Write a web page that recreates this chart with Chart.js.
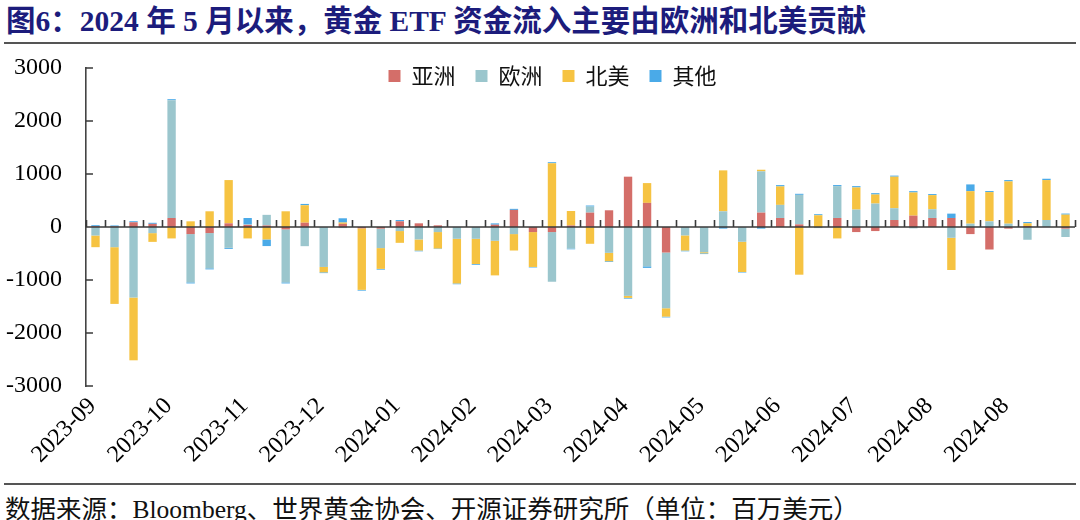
<!DOCTYPE html>
<html lang="zh-CN">
<head>
<meta charset="utf-8">
<title>黄金 ETF 资金流</title>
<script src="https://cdn.jsdelivr.net/npm/chart.js@4.4.1/dist/chart.umd.min.js"></script>
<style>
  html, body { margin: 0; padding: 0; background: #fff; }
  #page { position: relative; width: 1080px; height: 520px; overflow: hidden;
          font-family: "Liberation Serif", "Noto Sans CJK SC", serif; }
  #title { position: absolute; left: 6px; top: -3px; font-size: 29.5px; font-weight: bold;
           color: #1c1c7c; white-space: nowrap; }
  .rule { position: absolute; left: 4px; right: 4px; height: 2px; background: #555; }
  #box { position: absolute; left: 0; top: 46px; width: 1080px; height: 436px; }
  #source { position: absolute; left: 5px; top: 488px; font-size: 25.5px; color: #111; white-space: nowrap; }
</style>
</head>
<body>
<div id="page">
  <div id="title">图6：2024 年 5 月以来，黄金 ETF 资金流入主要由欧洲和北美贡献</div>
  <div class="rule" style="top:42px"></div>
  <div id="box"><canvas id="grafica"></canvas></div>
  <div class="rule" style="top:483px"></div>
  <div id="source">数据来源：Bloomberg、世界黄金协会、开源证券研究所（单位：百万美元）</div>
</div>
<script>
// semanas (etiqueta = año-mes de cada semana)
const weeks = [
  '2023-09',
  '2023-10', '2023-10', '2023-10', '2023-10',
  '2023-11', '2023-11', '2023-11', '2023-11',
  '2023-12', '2023-12', '2023-12', '2023-12', '2023-12',
  '2024-01', '2024-01', '2024-01', '2024-01',
  '2024-02', '2024-02', '2024-02', '2024-02',
  '2024-03', '2024-03', '2024-03', '2024-03', '2024-03',
  '2024-04', '2024-04', '2024-04', '2024-04',
  '2024-05', '2024-05', '2024-05', '2024-05', '2024-05',
  '2024-06', '2024-06', '2024-06', '2024-06',
  '2024-07', '2024-07', '2024-07', '2024-07',
  '2024-08', '2024-08', '2024-08', '2024-08', '2024-08',
  '2024-09', '2024-09', '2024-09'
];
const labelEvery = 4;

// flujos por región (millones USD)
const asia = [15, 10, 90, 60, 170, -133, -114, 70, 40, 30,
  -44, 82, 0, 60, -25, -30, 108, 70, 32, 0,
  0, 44, 323, -95, -95, 30, 272, 316, 950, 456,
  -481, 0, 0, 0, 0, 272, 171, 50, 0, 171,
  -95, -76, 133, 215, 171, 171, -133, -424, -30, 20,
  0, -30];
const europe = [-160, -380, -1330, -115, 2222, -911, -665, -392, 10, 200,
  -1000, -361, -753, -20, 0, -367, -76, -234, -95, -222,
  -222, -260, -133, 0, -937, -405, 114, -487, -1298, -741,
  -1051, -158, -475, 297, -278, 779, 247, 557, -20, 601,
  329, 443, 222, -25, 165, -203, 63, 108, 63, -240,
  133, -158];
const northAmerica = [-220, -1070, -1184, -165, -215, 108, 297, 816, -215, -234,
  297, 329, -101, 25, -1160, -392, -222, -209, -310, -842,
  -475, -652, -310, -658, 1203, 272, -316, -158, -38, 373,
  -158, -285, -20, 772, -570, 30, 348, -899, 222, -215,
  418, 171, 595, 437, 266, -608, 614, 551, 798, 50,
  753, 234];
const other = [20, 20, 20, 20, 20, -20, -20, -20, 120, -125,
  -20, 25, -15, 80, -15, -15, 25, -15, -10, -15,
  -15, 25, 20, -10, 20, -15, 20, -15, -15, -30,
  -15, -15, -15, -30, -10, -30, 25, 20, 20, 20,
  25, 25, 20, 25, 20, 82, 127, 20, 25, 25,
  25, 20];

const yTicks = [-3000, -2000, -1000, 0, 1000, 2000, 3000];

const serif = '"Liberation Serif", "Noto Sans CJK SC", serif';
const yLabelGap = 24;

// leyenda sobre el área del gráfico, línea del cero y marcas de los ejes
const axisMarks = {
  id: 'axisMarks',
  beforeInit(chart) {
    // la leyenda no ocupa sitio en el layout
    const lg = chart.legend;
    const fit = lg.fit.bind(lg);
    lg.fit = function () { fit(); this.height = 0; };
  },
  afterLayout(chart) {
    const lg = chart.legend;
    lg.top = chart.chartArea.top - 23;
    lg.height = 60;
    lg.bottom = lg.top + lg.height;
    lg.left += 12; lg.right += 12;
  },
  afterDatasetsDraw(chart) {
    const { ctx, chartArea, scales: { x, y } } = chart;
    const y0 = y.getPixelForValue(0);
    const half = (x.getPixelForValue(1) - x.getPixelForValue(0)) / 2;
    ctx.save();
    ctx.strokeStyle = '#3a3a3a';
    ctx.lineWidth = 1.6;
    ctx.beginPath();
    ctx.moveTo(chartArea.left, y0);
    ctx.lineTo(chartArea.right, y0);
    for (let i = 0; i <= weeks.length; i++) {
      const px = Math.round(x.getPixelForValue(i) - half) + 0.5;
      ctx.moveTo(px, y0);
      ctx.lineTo(px, y0 - 7);
    }
    yTicks.forEach(v => {
      const py = y.getPixelForValue(v);
      ctx.moveTo(chartArea.left, py);
      ctx.lineTo(chartArea.left + 7, py);
    });
    ctx.stroke();
    ctx.restore();
  }
};

new Chart(document.querySelector('#grafica'), {
  type: 'bar',
  data: {
    labels: weeks,
    datasets: [
      { label: '亚洲', data: asia, backgroundColor: '#d46e69' },
      { label: '欧洲', data: europe, backgroundColor: '#9bc6cd' },
      { label: '北美', data: northAmerica, backgroundColor: '#f6c342' },
      { label: '其他', data: other, backgroundColor: '#4aaae8' }
    ]
  },
  options: {
    responsive: true,
    maintainAspectRatio: false,
    animation: false,
    layout: { padding: { left: 6, right: 5, top: 22, bottom: 7 } },
    datasets: { bar: { barPercentage: 0.44, categoryPercentage: 1 } },
    plugins: {
      legend: {
        position: 'top',
        labels: {
          boxWidth: 12, boxHeight: 12, padding: 20, color: '#111',
          font: { family: '"Noto Sans CJK SC", sans-serif', size: 22 }
        }
      },
      tooltip: { enabled: false }
    },
    scales: {
      x: {
        stacked: true,
        grid: { display: false, drawTicks: false },
        border: { display: false },
        afterFit: s => { s.paddingLeft = 0; s.paddingRight = 0; },
        ticks: {
          autoSkip: false, maxRotation: 45, minRotation: 45, padding: 6, labelOffset: -3,
          color: '#000', font: { family: serif, size: 24 },
          callback: (v, i) => (i % labelEvery === 0 ? weeks[i] : '')
        }
      },
      y: {
        stacked: true,
        min: -3000,
        max: 3000,
        afterBuildTicks: s => { s.ticks = yTicks.map(v => ({ value: v })); },
        afterFit: s => { s.paddingTop = 0; s.paddingBottom = 0; s.width -= yLabelGap; },
        grid: { display: false, drawTicks: false },
        border: { display: true, color: '#444', width: 1.6 },
        ticks: {
          padding: yLabelGap, color: '#000', font: { family: serif, size: 24 },
          callback: v => String(v)
        }
      }
    }
  },
  plugins: [axisMarks]
});
</script>
</body>
</html>
